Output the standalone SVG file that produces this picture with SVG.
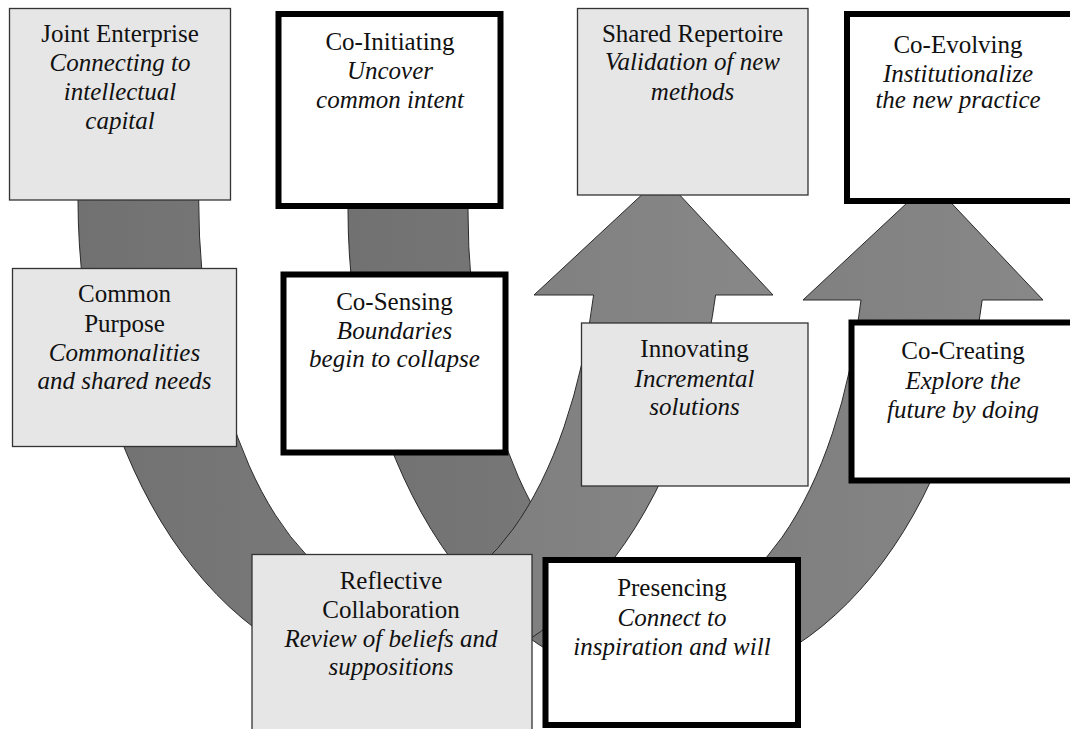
<svg xmlns="http://www.w3.org/2000/svg" width="1070" height="729" viewBox="0 0 1070 729">
<defs>
<linearGradient id="ag" x1="0" y1="0" x2="1" y2="0">
<stop offset="0" stop-color="#717171"/>
<stop offset="1" stop-color="#888888"/>
</linearGradient>
<style>
.arrow{fill:url(#ag);stroke:#2a2a2a;stroke-width:1;stroke-linejoin:miter}
.gray{fill:#e6e6e6;stroke:#333;stroke-width:1.3}
.bold{fill:#fff;stroke:#000;stroke-width:6}
text{font-size:25px;fill:#111;text-anchor:middle}
.i{font-style:italic}
</style>
</defs>
<rect width="1070" height="729" fill="#fff"/>
<g id="connectors">
<path id="arrow2" class="arrow" d="M 348 195 L 348 210 A 320 475 0 0 0 982.2 300 L 1043 300 L 930.5 181 L 803 300 L 861 300 A 199 400 0 0 1 468 210 L 468 195 Z"/>
<path id="arrow1" class="arrow" d="M 78 190 L 78 200 A 322 480 0 0 0 715.6 295 L 773 295 L 662 176 L 534 295 L 593.6 295 A 200.3 400 0 0 1 198.7 200 L 198.7 190 Z"/>
</g>
<g font-family="Liberation Serif, Times New Roman, DejaVu Serif, serif">
<g id="joint-enterprise">
<rect class="gray" x="9.5" y="8.5" width="221" height="191.5"/>
<text x="120" y="41.5">Joint Enterprise</text>
<text class="i" x="120" y="71">Connecting to</text>
<text class="i" x="120" y="100">intellectual</text>
<text class="i" x="120" y="129">capital</text>
</g>
<g id="co-initiating">
<rect class="bold" x="278.5" y="14" width="222" height="192"/>
<text x="390" y="49.5">Co-Initiating</text>
<text class="i" x="390" y="79">Uncover</text>
<text class="i" x="390" y="107.5">common intent</text>
</g>
<g id="shared-repertoire">
<rect class="gray" x="577.5" y="8.5" width="230.5" height="186.5"/>
<text x="692.5" y="41.5">Shared Repertoire</text>
<text class="i" x="692.5" y="70">Validation of new</text>
<text class="i" x="692.5" y="99.5">methods</text>
</g>
<g id="co-evolving">
<rect class="bold" x="847" y="14" width="230" height="187"/>
<text x="958" y="53">Co-Evolving</text>
<text class="i" x="958" y="81.5">Institutionalize</text>
<text class="i" x="958" y="107.5">the new practice</text>
</g>
<g id="common-purpose">
<rect class="gray" x="12.5" y="268.5" width="224" height="178"/>
<text x="124.5" y="301.5">Common</text>
<text x="124.5" y="331.5">Purpose</text>
<text class="i" x="124.5" y="360.5">Commonalities</text>
<text class="i" x="124.5" y="389">and shared needs</text>
</g>
<g id="co-sensing">
<rect class="bold" x="283.5" y="274.5" width="222" height="178"/>
<text x="394.5" y="309.5">Co-Sensing</text>
<text class="i" x="394.5" y="339">Boundaries</text>
<text class="i" x="394.5" y="366.5">begin to collapse</text>
</g>
<g id="innovating">
<rect class="gray" x="581.5" y="323" width="226.5" height="163"/>
<text x="694.5" y="356.5">Innovating</text>
<text class="i" x="694.5" y="386.5">Incremental</text>
<text class="i" x="694.5" y="415">solutions</text>
</g>
<g id="co-creating">
<rect class="bold" x="851.5" y="322.5" width="230" height="158"/>
<text x="963" y="359">Co-Creating</text>
<text class="i" x="963" y="389">Explore the</text>
<text class="i" x="963" y="418">future by doing</text>
</g>
<g id="reflective-collaboration">
<rect class="gray" x="252" y="554.5" width="280" height="190"/>
<text x="391" y="588.5">Reflective</text>
<text x="391" y="617.5">Collaboration</text>
<text class="i" x="391" y="646.5">Review of beliefs and</text>
<text class="i" x="391" y="674.5">suppositions</text>
</g>
<g id="presencing">
<rect class="bold" x="545.5" y="560" width="252.5" height="165"/>
<text x="672" y="596">Presencing</text>
<text class="i" x="672" y="626">Connect to</text>
<text class="i" x="672" y="655">inspiration and will</text>
</g>
</g>
</svg>
